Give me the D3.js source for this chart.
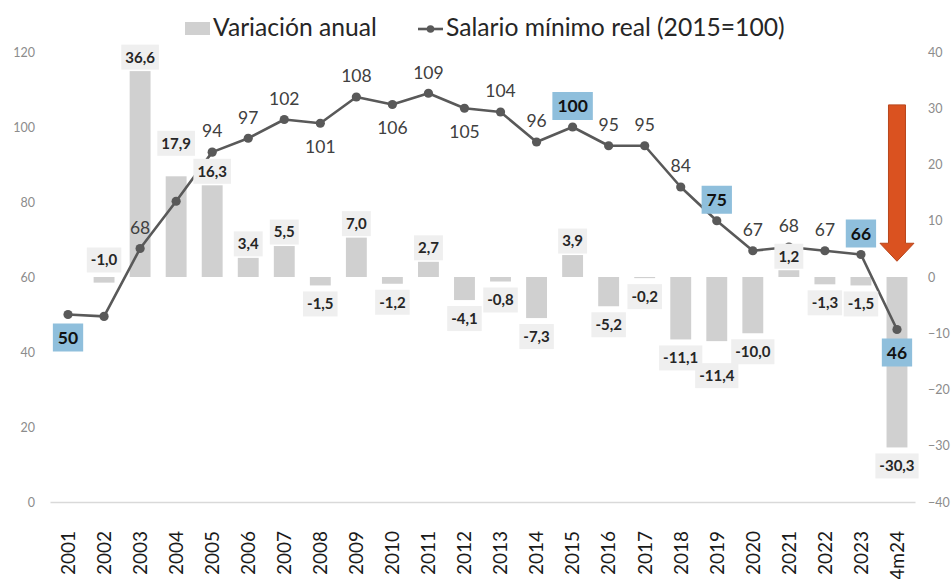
<!DOCTYPE html>
<html><head><meta charset="utf-8">
<script src="https://cdn.jsdelivr.net/npm/d3@7"></script>
<style>body{margin:0;background:#fff;overflow:hidden} svg{font-family:Lato, sans-serif;display:block}</style>
</head><body><svg id="c" width="951" height="579"></svg>
<script>
const categories = ["2001","2002","2003","2004","2005","2006","2007","2008","2009","2010","2011","2012","2013","2014","2015","2016","2017","2018","2019","2020","2021","2022","2023","4m24"];
const variacionAnual = [null,-1.0,36.6,17.9,16.3,3.4,5.5,-1.5,7.0,-1.2,2.7,-4.1,-0.8,-7.3,3.9,-5.2,-0.2,-11.1,-11.4,-10.0,1.2,-1.3,-1.5,-30.3];
const salarioReal = [50,49.5,67.6,80.2,93.3,97,102,101,108,106,109,105,104,96,100,95,95,84,75,67,68,67,66,46];
const salarioLabels = ["50","","68","","94","97","102","101","108","106","109","105","104","96","100","95","95","84","75","67","68","67","66","46"];
const leftTicks = [0,20,40,60,80,100,120];
const rightTicks = [-40,-30,-20,-10,0,10,20,30,40];
const highlighted = ["2001","2015","2019","2023","4m24"];
const labelBelow = ["2001","2008","2010","2012","4m24"];
const seriesNames = ["Variación anual","Salario mínimo real (2015=100)"];
// manual nudges of bar labels (px) to avoid overlap, as in the original
const barLabelNudge = {"2002":"above","2004":-19,"2019":16};

const svg = d3.select("#c");
const x = d3.scaleBand().domain(categories).range([50,915]).paddingInner(0.42).paddingOuter(0.21);
const yL = d3.scaleLinear().domain([0,120]).range([502,52]);
const yR = d3.scaleLinear().domain([-40,40]).range([502,52]);
const cx = c => x(c) + x.bandwidth()/2;

const barColor = "#d0d0d0", lineColor = "#595959";

// axes
const gl = svg.append("g").attr("transform","translate(38,0)")
  .call(d3.axisLeft(yL).tickValues(leftTicks).tickSize(0).tickPadding(3));
gl.attr("font-family","Lato, sans-serif").attr("font-size",12.5);
gl.select(".domain").remove();
gl.selectAll("text").attr("fill","#8c8c8c");

const gr = svg.append("g").attr("transform","translate(925,0)")
  .call(d3.axisRight(yR).tickValues(rightTicks).tickSize(0).tickPadding(3));
gr.attr("font-family","Lato, sans-serif").attr("font-size",12.5);
gr.select(".domain").remove();
gr.selectAll("text").attr("fill","#8c8c8c");

const gx = svg.append("g").attr("transform","translate(0,502)")
  .call(d3.axisBottom(x).tickSize(0).tickSizeOuter(0));
gx.attr("font-family","Lato, sans-serif").attr("font-size",19);
gx.select(".domain").attr("stroke","#d9d9d9").attr("stroke-width",1.3);
gx.selectAll("text").attr("transform","rotate(-90)").attr("x",-29).attr("y",0).attr("dy","0.36em")
  .style("text-anchor","end").attr("fill","#1a1a1a");

// bars
const barData = categories.map((c,i)=>({c, v: variacionAnual[i]})).filter(d=>d.v!=null);
svg.append("g").selectAll("rect").data(barData).join("rect")
  .attr("x",d=>x(d.c)).attr("width",x.bandwidth())
  .attr("y",d=>yR(Math.max(0,d.v))).attr("height",d=>Math.abs(yR(d.v)-yR(0)))
  .attr("fill",barColor);

// line
const lineData = categories.map((c,i)=>({c, v: salarioReal[i], lab: salarioLabels[i]}));
svg.append("path").datum(lineData)
  .attr("d", d3.line().x(d=>cx(d.c)).y(d=>yL(d.v)))
  .attr("fill","none").attr("stroke",lineColor).attr("stroke-width",2.6).attr("stroke-linejoin","round");
svg.append("g").selectAll("circle").data(lineData).join("circle")
  .attr("cx",d=>cx(d.c)).attr("cy",d=>yL(d.v)).attr("r",4.6).attr("fill",lineColor);

// line labels
const ll = svg.append("g");
lineData.filter(d=>d.lab).forEach(d=>{
  const below = labelBelow.includes(d.c);
  const hl = highlighted.includes(d.c);
  const yc = yL(d.v) + (below ? 23 : -21);
  const g = ll.append("g");
  const t = g.append("text").attr("x",cx(d.c)).attr("y",yc).attr("dy","0.36em")
    .attr("text-anchor","middle").attr("font-size", hl ? 17.5 : 17.5)
    .attr("font-weight", hl ? "bold" : "normal")
    .attr("fill", hl ? "#111" : "#404040").text(d.lab);
  if (hl) {
    const w = t.node().getComputedTextLength();
    g.insert("rect","text").attr("x",cx(d.c)-w/2-5).attr("y",yc-14).attr("width",w+10).attr("height",28)
      .attr("fill","#8fbfdc");
  }
});

// bar labels
const fmt = v => v.toFixed(1).replace(".",",");
const bl = svg.append("g");
barData.forEach(d=>{
  let yc;
  const n = barLabelNudge[d.c];
  if (n === "above") yc = yR(0) - 17;
  else if (d.v >= 0) yc = yR(d.v) - 14 + (typeof n === "number" ? n : 0);
  else yc = yR(d.v) + 18.5 + (typeof n === "number" ? n : 0);
  const g = bl.append("g");
  const t = g.append("text").attr("x",cx(d.c)).attr("y",yc).attr("dy","0.36em")
    .attr("text-anchor","middle").attr("font-size",15).attr("font-weight","bold")
    .attr("fill","#262626").text(fmt(d.v));
  const w = t.node().getComputedTextLength();
  g.insert("rect","text").attr("x",cx(d.c)-w/2-4).attr("y",yc-12.5).attr("width",w+8).attr("height",25)
    .attr("fill","#efefef");
});

// arrow annotation on last category
const ax = cx("4m24");
const aTop = yR(30.6), aNeck = yR(6), aTip = yR(2.8);
svg.append("path")
  .attr("d",`M${ax-8.5},${aTop}H${ax+8.5}V${aNeck}H${ax+17}L${ax},${aTip}L${ax-17},${aNeck}H${ax-8.5}Z`)
  .attr("fill","#da5220").attr("stroke","#b8451b").attr("stroke-width",1);

// legend
const lg = svg.append("g").attr("font-family","Lato, sans-serif").attr("fill","#262626");
lg.append("rect").attr("x",185).attr("y",22).attr("width",25).attr("height",13).attr("fill",barColor);
const t1 = lg.append("text").attr("x",213).attr("y",35.5).attr("font-size",20).text(seriesNames[0]);
const k = 164 / t1.node().getComputedTextLength();
const fs = 20*k;
t1.attr("font-size",fs);
lg.append("line").attr("x1",418).attr("x2",443).attr("y1",29).attr("y2",29).attr("stroke",lineColor).attr("stroke-width",2.6);
lg.append("circle").attr("cx",430.5).attr("cy",29).attr("r",3.8).attr("fill",lineColor);
lg.append("text").attr("x",446).attr("y",35.5).attr("font-size",fs).text(seriesNames[1]);
</script></body></html>
